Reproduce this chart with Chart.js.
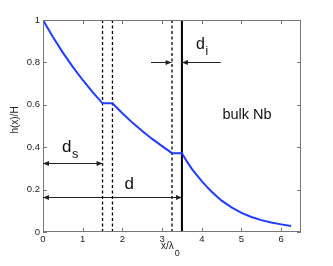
<!DOCTYPE html>
<html><head><meta charset="utf-8">
<script src="https://cdn.jsdelivr.net/npm/chart.js@4/dist/chart.umd.min.js"></script>
<style>html,body{margin:0;padding:0;background:#fff}#wrap{width:333px;height:266px}</style>
</head><body><div id="wrap"><canvas id="c" width="333" height="266"></canvas></div>
<script>
// Data
const xValues = [0, 0.25, 0.5, 0.75, 1.0, 1.25, 1.5, 1.75, 2.0, 2.25, 2.5, 2.75, 3.0, 3.25, 3.5, 3.625, 3.75, 3.875, 4.0, 4.125, 4.25, 4.5, 4.75, 5.0, 5.25, 5.5, 5.75, 6.0, 6.25];
const hValues = [1.0, 0.92, 0.846, 0.779, 0.717, 0.66, 0.607, 0.607, 0.56, 0.516, 0.476, 0.439, 0.405, 0.372, 0.372, 0.333, 0.298, 0.268, 0.24, 0.214, 0.19, 0.148, 0.116, 0.09, 0.071, 0.056, 0.045, 0.036, 0.028];
const dashedBoundaries = [1.5, 1.75, 3.25];
const solidBoundary = 3.5;
const xTicks = [0, 1, 2, 3, 4, 5, 6];
const yTicks = [0, 0.2, 0.4, 0.6, 0.8, 1];
// arrows: [xStart, xEnd, y, headAtStart, headAtEnd]
const arrows = [
  [0, 1.5, 0.324, true, true],
  [0, 3.5, 0.167, true, true],
  [2.72, 3.24, 0.803, false, true],
  [4.48, 3.5, 0.803, false, true]
];
// labels: [text, subscript, x, y, size]
const labels = [
  ['d', 's', 0.68, 0.40, 17],
  ['d', '', 2.17, 0.225, 17],
  ['d', 'i', 4.0, 0.885, 16],
  ['bulk Nb', '', 5.14, 0.552, 14.5]
];

const FONT = "'Liberation Sans', Arial, sans-serif";

const datasets = [{
  data: xValues.map((x, i) => ({x, y: hValues[i]})),
  borderColor: '#1f3cff', borderWidth: 2, pointRadius: 0, tension: 0, order: 0
}];
dashedBoundaries.forEach(b => datasets.push({
  data: [{x: b, y: 0}, {x: b, y: 1}], borderColor: '#000', borderWidth: 1.3,
  borderDash: [3, 2.5], pointRadius: 0, order: 2
}));
datasets.push({
  data: [{x: solidBoundary, y: 0}, {x: solidBoundary, y: 1}], borderColor: '#000', borderWidth: 2,
  pointRadius: 0, order: 1
});

const deco = {
  id: 'deco',
  afterDatasetsDraw(chart) {
    const ctx = chart.ctx, a = chart.chartArea, xs = chart.scales.x, ys = chart.scales.y;
    ctx.save();
    // frame
    ctx.strokeStyle = '#777'; ctx.lineWidth = 1;
    ctx.strokeRect(a.left + 0.5, a.top + 0.5, a.right - a.left - 1, a.bottom - a.top - 1);
    // inward ticks
    ctx.beginPath();
    xTicks.forEach(t => {
      const p = Math.round(xs.getPixelForValue(t)) + 0.5;
      ctx.moveTo(p, a.bottom); ctx.lineTo(p, a.bottom - 4);
      ctx.moveTo(p, a.top); ctx.lineTo(p, a.top + 4);
    });
    yTicks.forEach(t => {
      const p = Math.round(ys.getPixelForValue(t)) + 0.5;
      ctx.moveTo(a.left, p); ctx.lineTo(a.left + 4, p);
      ctx.moveTo(a.right, p); ctx.lineTo(a.right - 4, p);
    });
    ctx.stroke();
    // arrows
    ctx.strokeStyle = '#222'; ctx.fillStyle = '#222'; ctx.lineWidth = 1;
    const head = (x, y, dir) => {
      ctx.beginPath(); ctx.moveTo(x, y); ctx.lineTo(x - dir * 6, y - 2.5); ctx.lineTo(x - dir * 6, y + 2.5); ctx.closePath(); ctx.fill();
    };
    arrows.forEach(([x0, x1, yv, h0, h1]) => {
      const p0 = xs.getPixelForValue(x0), p1 = xs.getPixelForValue(x1), py = Math.round(ys.getPixelForValue(yv)) + 0.5;
      ctx.beginPath(); ctx.moveTo(p0, py); ctx.lineTo(p1, py); ctx.stroke();
      const dir = Math.sign(p1 - p0);
      if (h1) head(p1, py, dir);
      if (h0) head(p0, py, -dir);
    });
    // labels
    ctx.fillStyle = '#111'; ctx.textBaseline = 'middle';
    labels.forEach(([t, sub, xv, yv, size]) => {
      ctx.font = size + 'px ' + FONT;
      const w = ctx.measureText(t).width;
      ctx.font = (size * 0.75) + 'px ' + FONT;
      const sw = sub ? ctx.measureText(sub).width : 0;
      const px = xs.getPixelForValue(xv) - (w + sw) / 2, py = ys.getPixelForValue(yv);
      ctx.font = size + 'px ' + FONT; ctx.textAlign = 'left';
      ctx.fillText(t, px, py);
      if (sub) { ctx.font = (size * 0.75) + 'px ' + FONT; ctx.fillText(sub, px + w + 0.5, py + size * 0.45); }
    });
    // axis titles
    ctx.font = '10px ' + FONT; ctx.fillStyle = '#222';
    const t1 = 'x/λ', w1 = ctx.measureText(t1).width;
    ctx.textAlign = 'left';
    ctx.fillText(t1, 161, 246);
    ctx.font = '9px ' + FONT;
    ctx.fillText('0', 161 + w1 + 1, 254);
    ctx.save();
    ctx.translate(15, 120);
    ctx.rotate(-Math.PI / 2);
    ctx.font = '10px ' + FONT; ctx.textAlign = 'center';
    ctx.fillText('h(x)/H', 0, 0);
    ctx.restore();
    ctx.restore();
  }
};

new Chart(document.getElementById('c'), {
  type: 'line',
  data: {datasets},
  options: {
    responsive: false, animation: false, devicePixelRatio: 1,
    layout: {padding: {top: 20, right: 32, left: 0, bottom: 0}},
    plugins: {legend: {display: false}, tooltip: {enabled: false}},
    scales: {
      x: {
        type: 'linear', min: 0, max: 6.5,
        afterBuildTicks: s => { s.ticks = xTicks.map(v => ({value: v})); },
        afterFit: s => { s.height = 34; },
        grid: {display: true, drawOnChartArea: false, drawTicks: false},
        border: {display: false},
        ticks: {padding: 2, color: '#222', font: {family: FONT, size: 9.5}, maxRotation: 0, callback: v => String(v)}
      },
      y: {
        type: 'linear', min: 0, max: 1,
        afterBuildTicks: s => { s.ticks = yTicks.map(v => ({value: v})); },
        afterFit: s => { s.width = 43; },
        grid: {display: true, drawOnChartArea: false, drawTicks: false},
        border: {display: false},
        ticks: {padding: 3, color: '#222', font: {family: FONT, size: 9.5}, callback: v => String(+v.toFixed(1))}
      }
    }
  },
  plugins: [deco]
});
</script></body></html>
